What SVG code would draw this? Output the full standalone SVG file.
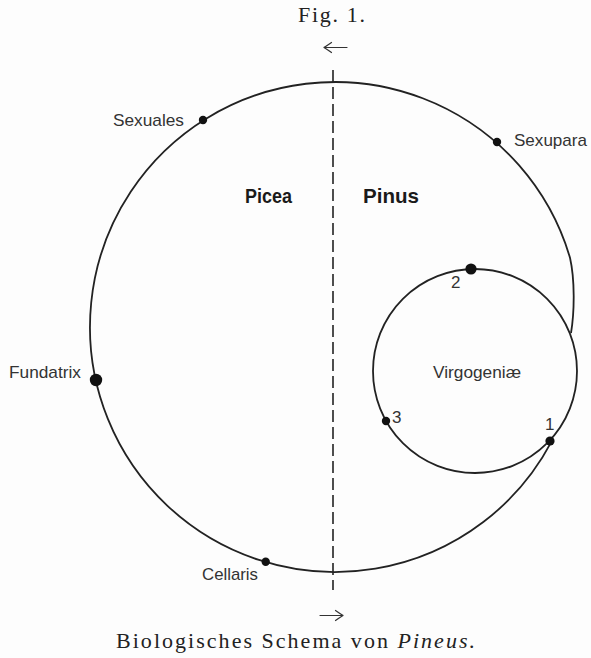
<svg xmlns="http://www.w3.org/2000/svg" width="591" height="658" viewBox="0 0 591 658">
<style>
.bg{fill:#fdfdfd}
.ln{fill:none;stroke:#222;stroke-width:1.8}
.dash{fill:none;stroke:#222;stroke-width:1.6;stroke-dasharray:12 5}
.arr{fill:none;stroke:#333;stroke-width:1.2;stroke-linecap:round}
.dot{fill:#111}
.lbl{font-family:"Liberation Sans",Arial,sans-serif;font-size:17px;fill:#333}
.bold{font-family:"Liberation Sans",Arial,sans-serif;font-size:21px;font-weight:bold;fill:#1a1a1a}
.serif{font-family:"Liberation Serif","Times New Roman",serif;fill:#222}
</style>
<rect class="bg" x="0" y="0" width="591" height="658"/>
<text class="serif" x="298" y="22" font-size="22" textLength="67" lengthAdjust="spacing">Fig. 1.</text>
<g id="connectors">
<path id="big-cycle" class="ln" d="M551.5 441.7 A245 245 0 1 1 570 257.8 C575 280 574.5 312 571 333"/>
<circle id="small-cycle" class="ln" cx="475" cy="371" r="102"/>
<line id="divider" class="dash" x1="333" y1="70" x2="333" y2="590"/>
<path id="arrow-top" class="arr" d="M324 47.5 H347 M324 47.5 Q328 45 331.5 42.5 M324 47.5 Q328 50 331.5 52.5"/>
<path id="arrow-bottom" class="arr" d="M320 615.5 H343 M343 615.5 Q339 613 335.5 610.5 M343 615.5 Q339 618 335.5 620.5"/>
</g>
<g id="host-picea"><text class="bold" x="245" y="203" textLength="47" lengthAdjust="spacingAndGlyphs">Picea</text></g>
<g id="host-pinus"><text class="bold" x="363" y="203" textLength="56" lengthAdjust="spacingAndGlyphs">Pinus</text></g>
<g id="node-sexuales"><circle class="dot" cx="203" cy="120" r="4.2"/><text class="lbl" x="113" y="126" textLength="71" lengthAdjust="spacingAndGlyphs">Sexuales</text></g>
<g id="node-sexupara"><circle class="dot" cx="497" cy="142" r="4.2"/><text class="lbl" x="514" y="146" textLength="73" lengthAdjust="spacingAndGlyphs">Sexupara</text></g>
<g id="node-fundatrix"><circle class="dot" cx="96" cy="380" r="6.2"/><text class="lbl" x="9" y="378" textLength="72" lengthAdjust="spacingAndGlyphs">Fundatrix</text></g>
<g id="node-cellaris"><circle class="dot" cx="265.7" cy="561.7" r="4.2"/><text class="lbl" x="202" y="580" textLength="56" lengthAdjust="spacingAndGlyphs">Cellaris</text></g>
<g id="node-virgogeniae"><text class="lbl" x="433" y="378" textLength="88" lengthAdjust="spacingAndGlyphs">Virgogeniæ</text></g>
<g id="node-1"><circle class="dot" cx="550" cy="441" r="4.6"/><text class="lbl" x="545" y="430">1</text></g>
<g id="node-2"><circle class="dot" cx="471" cy="269" r="5.6"/><text class="lbl" x="451" y="288">2</text></g>
<g id="node-3"><circle class="dot" cx="386" cy="421" r="4.2"/><text class="lbl" x="392" y="423">3</text></g>
<g id="caption"><text class="serif" x="116" y="648" font-size="22" textLength="359" lengthAdjust="spacing">Biologisches Schema von <tspan font-style="italic">Pineus.</tspan></text></g>
</svg>
